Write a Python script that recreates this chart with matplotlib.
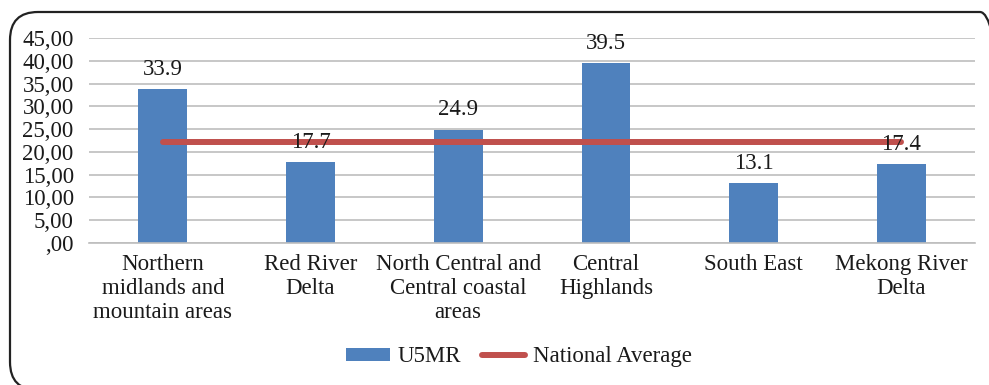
import numpy as np
import matplotlib.pyplot as plt
from matplotlib.patches import FancyBboxPatch
from matplotlib.ticker import FuncFormatter

plt.rcParams['font.family'] = ['Liberation Serif', 'DejaVu Serif']

# U5MR by region
regions = ['Northern\nmidlands and\nmountain areas', 'Red River\nDelta',
           'North Central and\nCentral coastal\nareas', 'Central\nHighlands',
           'South East', 'Mekong River\nDelta']
u5mr = [33.9, 17.7, 24.9, 39.5, 13.1, 17.4]
national_avg = [22.1] * len(regions)

blue = '#4F81BD'
red = '#C0504D'
txt = '#1a1a1a'
fs = 16.5

fig = plt.figure(figsize=(9.89, 3.85), dpi=100)
ax = fig.add_axes([0.090, 0.369, 0.896, 0.532])

x = np.arange(len(regions))
bars = ax.bar(x, u5mr, width=0.33, color=blue, label='U5MR', zorder=2)
line, = ax.plot(x, national_avg, color=red, lw=4.3, solid_capstyle='round',
                label='National Average', zorder=3)

for xi, v in zip(x, u5mr):
    ax.text(xi, v + 2.0, f'{v}', ha='center', va='bottom', fontsize=fs,
            color=txt, zorder=4)


def fmt(v, pos):
    s = ('%.2f' % v).replace('.', ',')
    return s.lstrip('0') if v < 1 else s


ax.set_xlim(-0.5, len(regions) - 0.5)
ax.set_ylim(0, 45)
ax.set_yticks(np.arange(0, 46, 5))
ax.yaxis.set_major_formatter(FuncFormatter(fmt))
ax.set_xticks(x)
ax.set_xticklabels(regions, fontsize=fs, linespacing=1.2, color=txt)
ax.tick_params(axis='y', length=0, pad=11, labelsize=fs, labelcolor=txt)
ax.tick_params(axis='x', length=0, pad=8)
ax.grid(axis='y', color='#BEBEBE', lw=1.2, zorder=0)
ax.set_axisbelow(True)
for s in ['top', 'right', 'left']:
    ax.spines[s].set_visible(False)
ax.spines['bottom'].set_color('#BEBEBE')
ax.spines['bottom'].set_linewidth(1.2)

leg = fig.legend([bars, line], ['U5MR', 'National Average'], loc='center',
                 bbox_to_anchor=(0.525, 0.073), ncol=2, frameon=False,
                 fontsize=fs, handlelength=1.9, handleheight=0.5,
                 columnspacing=0.9, handletextpad=0.35)
for t in leg.get_texts():
    t.set_color(txt)

# rounded frame around the whole chart
frame = FancyBboxPatch((0.10, -0.05), 9.98, 3.78,
                       boxstyle='round,pad=0,rounding_size=0.28',
                       transform=fig.dpi_scale_trans, fill=False,
                       edgecolor='#222222', lw=1.6)
fig.patches.append(frame)

fig.savefig('out.png', dpi=100)
